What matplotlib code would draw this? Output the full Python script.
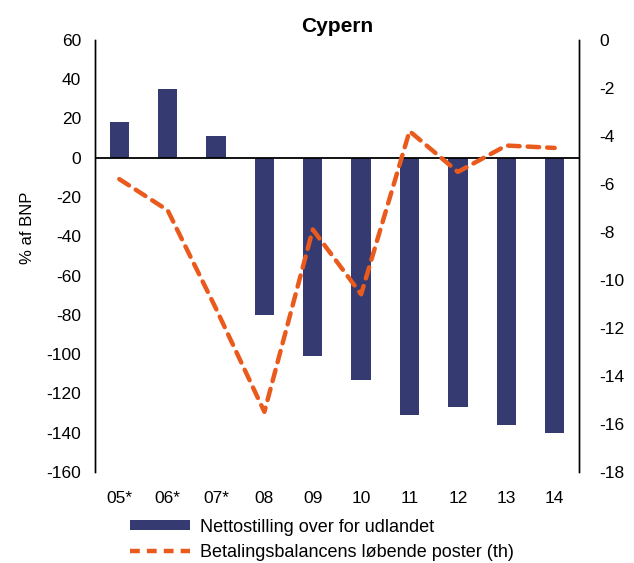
import matplotlib.pyplot as plt
from matplotlib.patches import Patch
from matplotlib.lines import Line2D
import numpy as np

plt.rcParams['font.family'] = ['Liberation Sans', 'DejaVu Sans']
plt.rcParams['axes.unicode_minus'] = False

# Données
aar = ["05*", "06*", "07*", "08", "09", "10", "11", "12", "13", "14"]
nettostilling = [18, 35, 11, -80, -101, -113, -131, -127, -136, -140]
betalingsbalance = [-5.8, -7.1, -11.2, -15.5, -7.9, -10.6, -3.8, -5.5, -4.4, -4.5]

bar_color = "#353B70"
line_color = "#EA5A1C"

fig = plt.figure(figsize=(6.34, 5.63), dpi=100)
ax = fig.add_axes([0.150, 0.162, 0.763, 0.767])
ax2 = ax.twinx()

x = np.arange(len(aar))
ax.bar(x, nettostilling, width=0.4, color=bar_color, zorder=2)
ax.axhline(0, color="black", lw=1.3, zorder=3)

ax2.plot(x, betalingsbalance, color=line_color, lw=3.2, dashes=(2.6, 1.8),
         dash_capstyle="round", zorder=4)

ax.set_xlim(-0.5, len(aar) - 0.5)
ax.set_ylim(-160, 60)
ax.set_yticks(np.arange(-160, 61, 20))
ax2.set_ylim(-18, 0)
ax2.set_yticks(np.arange(-18, 1, 2))

ax.set_xticks(x)
ax.set_xticklabels(aar)
ax.tick_params(axis="x", length=0, pad=14, labelsize=12.5)
ax.tick_params(axis="y", length=0, pad=10, labelsize=12.5)
ax2.tick_params(axis="y", length=0, pad=15, labelsize=12.5)

for a in (ax, ax2):
    a.spines["top"].set_visible(False)
    a.spines["bottom"].set_visible(False)
    a.spines["left"].set_linewidth(1.0)
    a.spines["right"].set_linewidth(1.0)

ax.set_ylabel("% af BNP", fontsize=12)
ax.yaxis.set_label_coords(-0.125, 0.565)

ax.set_title("Cypern", fontsize=15, fontweight="bold", pad=6)

handles = [
    Patch(facecolor=bar_color, edgecolor="none"),
    Line2D([0], [0], color=line_color, lw=3.2, dashes=(2.2, 1.6)),
]
labels = ["Nettostilling over for udlandet", "Betalingsbalancens løbende poster (th)"]
fig.legend(handles, labels, loc="upper left", bbox_to_anchor=(0.205, 0.079),
           frameon=False, fontsize=13, handlelength=3.3, handleheight=0.5,
           handletextpad=0.6, labelspacing=0.45, borderpad=0, borderaxespad=0)

fig.savefig("out.png", dpi=100)
